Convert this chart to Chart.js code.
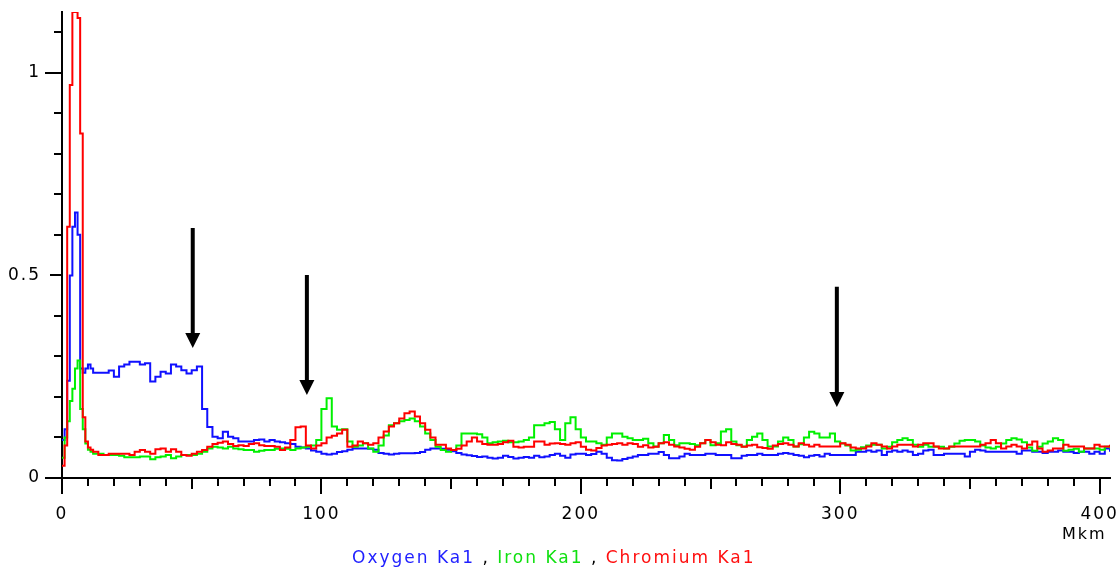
<!DOCTYPE html>
<html>
<head>
<meta charset="utf-8">
<script src="https://cdn.jsdelivr.net/npm/chart.js@4.4.1/dist/chart.umd.min.js"></script>
<style>
  body { margin: 0; background: #fff; }
  #wrap { position: relative; width: 1120px; height: 569px; }
  #unit { position: absolute; left: 1062px; top: 526px; font: 16px 'DejaVu Sans'; line-height: 16px; letter-spacing: 2px; color: #000; }
  #legend { position: absolute; left: 352px; top: 549px; font: 17px 'DejaVu Sans'; line-height: 17px; letter-spacing: 2px; color: #000; white-space: nowrap; }
</style>
</head>
<body>
<div id="wrap">
  <canvas id="canvas_1" width="1120" height="569"></canvas>
  <div id="unit">Mkm</div>
  <div id="legend"><span style="color:#1f1fff">Oxygen Ka1</span> , <span style="color:#10e010">Iron Ka1</span> , <span style="color:#ff1010">Chromium Ka1</span></div>
</div>
<script>
// distance along the scan, mkm
const xs = [0, 1, 2, 3, 4, 5, 6, 7, 8, 9, 10, 11, 12,
  14, 16, 18, 20, 22, 24, 26, 28, 30, 32, 34, 36, 38, 40, 42, 44, 46, 48, 50, 52,
  54, 56, 58, 60, 62, 64, 66, 68, 70, 72, 74, 76, 78, 80, 82, 84, 86, 88, 90, 92,
  94, 96, 98, 100, 102, 104, 106, 108, 110, 112, 114, 116, 118, 120, 122, 124, 126, 128, 130, 132,
  134, 136, 138, 140, 142, 144, 146, 148, 150, 152, 154, 156, 158, 160, 162, 164, 166, 168, 170, 172,
  174, 176, 178, 180, 182, 184, 186, 188, 190, 192, 194, 196, 198, 200, 202, 204, 206, 208, 210, 212,
  214, 216, 218, 220, 222, 224, 226, 228, 230, 232, 234, 236, 238, 240, 242, 244, 246, 248, 250, 252,
  254, 256, 258, 260, 262, 264, 266, 268, 270, 272, 274, 276, 278, 280, 282, 284, 286, 288, 290, 292,
  294, 296, 298, 300, 302, 304, 306, 308, 310, 312, 314, 316, 318, 320, 322, 324, 326, 328, 330, 332,
  334, 336, 338, 340, 342, 344, 346, 348, 350, 352, 354, 356, 358, 360, 362, 364, 366, 368, 370, 372,
  374, 376, 378, 380, 382, 384, 386, 388, 390, 392, 394, 396, 398, 400, 402, 404];

const oxygen = [0.094, 0.12, 0.24, 0.5, 0.62, 0.655, 0.6, 0.27, 0.26, 0.27, 0.28, 0.27, 0.26,
  0.26, 0.26, 0.265, 0.25, 0.275, 0.28, 0.287, 0.287, 0.28, 0.283,
  0.238, 0.25, 0.262, 0.258, 0.28, 0.275, 0.266, 0.258, 0.266, 0.275,
  0.17, 0.126, 0.102, 0.098, 0.114, 0.102, 0.098, 0.09, 0.09, 0.09,
  0.094, 0.095, 0.09, 0.094,
  0.09, 0.088, 0.086, 0.084, 0.077, 0.075, 0.073, 0.068, 0.065, 0.06,
  0.058, 0.06, 0.064, 0.066, 0.07, 0.073, 0.073, 0.073, 0.072, 0.07,
  0.062, 0.06, 0.058, 0.06, 0.061, 0.061, 0.061, 0.062, 0.064, 0.07,
  0.073, 0.073, 0.072, 0.07, 0.066, 0.062, 0.058, 0.056, 0.054, 0.052,
  0.053, 0.05, 0.048, 0.05, 0.055, 0.052, 0.048, 0.05, 0.052, 0.05,
  0.055, 0.051, 0.053, 0.057, 0.06, 0.055, 0.05, 0.058, 0.06, 0.06,
  0.057, 0.059, 0.065, 0.06, 0.05, 0.044, 0.043, 0.047, 0.05, 0.053,
  0.057, 0.057, 0.06, 0.06, 0.064, 0.057, 0.049, 0.049, 0.053, 0.06,
  0.057, 0.057, 0.057, 0.06, 0.06, 0.057, 0.057, 0.057, 0.049, 0.049,
  0.055, 0.057, 0.057, 0.06, 0.057, 0.057, 0.057, 0.06, 0.062, 0.06,
  0.057, 0.055, 0.051, 0.055, 0.057,
  0.053, 0.06, 0.057, 0.057, 0.057, 0.057, 0.057, 0.065, 0.065, 0.068,
  0.065, 0.068, 0.057, 0.065, 0.068, 0.065, 0.068, 0.065, 0.057, 0.06,
  0.068, 0.07, 0.057, 0.057, 0.06, 0.06, 0.06, 0.06, 0.053, 0.065,
  0.07, 0.068, 0.065, 0.065, 0.065, 0.065, 0.065, 0.065, 0.06, 0.068,
  0.068, 0.065, 0.065, 0.062, 0.065, 0.065, 0.068, 0.065, 0.065, 0.062,
  0.065, 0.065, 0.06, 0.065, 0.06, 0.073, 0.065];

const iron = [0.05, 0.1, 0.14, 0.19, 0.22, 0.27, 0.29, 0.17, 0.12, 0.085, 0.07, 0.065, 0.06,
  0.06, 0.057, 0.057, 0.057, 0.055, 0.051, 0.051, 0.051, 0.053, 0.053,
  0.046, 0.051, 0.053, 0.057, 0.049, 0.053, 0.057, 0.057, 0.057, 0.06,
  0.065, 0.073, 0.077, 0.075, 0.073, 0.077, 0.073, 0.071, 0.069, 0.069,
  0.065, 0.067, 0.069, 0.069,
  0.072, 0.073, 0.072, 0.069, 0.073, 0.075, 0.077, 0.08, 0.094, 0.17,
  0.197, 0.127, 0.119, 0.12, 0.09, 0.077, 0.08, 0.086, 0.073, 0.065,
  0.08, 0.105, 0.13, 0.135, 0.14, 0.143, 0.147, 0.14, 0.127, 0.11,
  0.094, 0.077, 0.069, 0.065, 0.069, 0.08, 0.11, 0.11, 0.11, 0.108,
  0.1, 0.086, 0.088, 0.09, 0.092, 0.088, 0.088, 0.09, 0.094, 0.1,
  0.13, 0.13, 0.135, 0.138, 0.12, 0.094, 0.135, 0.15, 0.12, 0.1,
  0.09, 0.09, 0.086, 0.082, 0.1, 0.11, 0.11, 0.102, 0.098, 0.094,
  0.094, 0.097, 0.086, 0.078, 0.086, 0.106, 0.094, 0.081, 0.086, 0.086,
  0.084, 0.081, 0.086, 0.094, 0.081, 0.086, 0.115, 0.12, 0.09, 0.081,
  0.078, 0.094, 0.102, 0.11, 0.094, 0.078, 0.078, 0.09, 0.1, 0.094,
  0.078, 0.083, 0.1, 0.114, 0.11,
  0.1, 0.1, 0.11, 0.09, 0.085, 0.08, 0.068, 0.07, 0.076, 0.08,
  0.082, 0.082, 0.073, 0.077, 0.088, 0.094, 0.098, 0.094, 0.082, 0.077,
  0.082, 0.077, 0.077, 0.077, 0.073, 0.077, 0.085, 0.092, 0.094, 0.094,
  0.09, 0.08, 0.075, 0.073, 0.077, 0.085, 0.094, 0.098, 0.095, 0.088,
  0.075, 0.067, 0.077, 0.085, 0.09, 0.098, 0.094, 0.067, 0.07, 0.072,
  0.065, 0.073, 0.073, 0.073, 0.07, 0.077, 0.073];

const chromium = [0.03, 0.08, 0.62, 0.97, 1.15, 1.15, 1.135, 0.85, 0.15, 0.09, 0.075, 0.07, 0.065,
  0.057, 0.057, 0.06, 0.06, 0.06, 0.06, 0.057, 0.065, 0.069, 0.065,
  0.06, 0.071, 0.073, 0.065, 0.071, 0.065, 0.057, 0.055, 0.06, 0.065,
  0.069, 0.077, 0.084, 0.087, 0.09, 0.084, 0.079, 0.081, 0.079, 0.084,
  0.086, 0.081, 0.079, 0.079,
  0.077, 0.069, 0.075, 0.094, 0.125, 0.127, 0.08, 0.073, 0.08, 0.086,
  0.1, 0.104, 0.11, 0.119, 0.077, 0.08, 0.09, 0.086, 0.082, 0.086,
  0.1, 0.115, 0.127, 0.135, 0.147, 0.16, 0.164, 0.152, 0.135, 0.119,
  0.1, 0.082, 0.082, 0.073, 0.069, 0.072, 0.08, 0.09, 0.1, 0.09,
  0.084, 0.082, 0.082, 0.084, 0.088, 0.092, 0.077, 0.075, 0.077, 0.077,
  0.09, 0.09, 0.082, 0.085, 0.086, 0.084, 0.082, 0.086, 0.088, 0.077,
  0.07, 0.068, 0.074, 0.08, 0.082, 0.084, 0.086, 0.082, 0.086, 0.084,
  0.077, 0.081, 0.075, 0.077, 0.086, 0.088, 0.082, 0.078, 0.075, 0.072,
  0.07, 0.077, 0.086, 0.094, 0.088, 0.082, 0.081, 0.088, 0.084, 0.082,
  0.077, 0.08, 0.082, 0.076, 0.074, 0.072, 0.08, 0.084, 0.086, 0.082,
  0.078, 0.086, 0.082, 0.078, 0.082,
  0.078, 0.078, 0.078, 0.078, 0.086, 0.082, 0.075, 0.073, 0.073, 0.078,
  0.086, 0.082, 0.078, 0.073, 0.078, 0.082, 0.082, 0.082, 0.078, 0.082,
  0.086, 0.086, 0.078, 0.073, 0.073, 0.078, 0.078, 0.078, 0.078, 0.078,
  0.078, 0.082, 0.086, 0.094, 0.086, 0.073, 0.078, 0.082, 0.078, 0.073,
  0.082, 0.09, 0.073, 0.065, 0.068, 0.073, 0.073, 0.082, 0.078, 0.078,
  0.078, 0.073, 0.073, 0.082, 0.078, 0.078, 0.082];

// arrows marking the layer boundaries (data coords)
const arrowX = [50.4, 94.4, 298.7];
const arrowTop = [0.617, 0.501, 0.472];
const arrowTip = [0.321, 0.205, 0.175];

const xLabels = [0, 100, 200, 300, 400];
const yLabels = [0, 0.5, 1];

function pts(arr) {
  return xs.map(function (x, i) { return { x: x, y: arr[i] }; });
}

// tick marks with long/medium/short lengths
const tickMarks = {
  id: 'tickMarks',
  beforeDraw(chart) {
    chart.ctx.letterSpacing = '2px';
  },
  afterDraw(chart) {
    const ctx = chart.ctx, a = chart.chartArea, x = chart.scales.x, y = chart.scales.y;
    ctx.save();
    ctx.strokeStyle = '#000';
    ctx.lineWidth = 2;
    ctx.beginPath();
    for (let v = 0; v <= 400; v += 10) {
      const px = Math.round(x.getPixelForValue(v));
      const len = v % 100 === 0 ? 16 : (v % 50 === 0 ? 11 : 8);
      ctx.moveTo(px, a.bottom);
      ctx.lineTo(px, a.bottom + len);
    }
    for (let k = 0; k <= 11; k++) {
      const py = Math.round(y.getPixelForValue(k / 10));
      const len = k % 10 === 0 ? 17 : (k % 5 === 0 ? 12 : 8);
      ctx.moveTo(a.left, py);
      ctx.lineTo(a.left - len, py);
    }
    ctx.stroke();
    ctx.restore();
  }
};

const arrows = {
  id: 'arrows',
  afterDatasetsDraw(chart) {
    const ctx = chart.ctx, x = chart.scales.x, y = chart.scales.y;
    ctx.save();
    ctx.fillStyle = '#000';
    ctx.strokeStyle = '#000';
    ctx.lineWidth = 4;
    for (let i = 0; i < arrowX.length; i++) {
      const px = x.getPixelForValue(arrowX[i]);
      const top = y.getPixelForValue(arrowTop[i]);
      const tip = y.getPixelForValue(arrowTip[i]);
      ctx.beginPath();
      ctx.moveTo(px, top);
      ctx.lineTo(px, tip - 12);
      ctx.stroke();
      ctx.beginPath();
      ctx.moveTo(px - 7.5, tip - 15);
      ctx.lineTo(px + 7.5, tip - 15);
      ctx.lineTo(px, tip);
      ctx.closePath();
      ctx.fill();
    }
    ctx.restore();
  }
};

Chart.defaults.font.family = "'DejaVu Sans', sans-serif";
Chart.defaults.color = '#000';

let canvas = document.getElementById('canvas_1');
let ctx = canvas.getContext('2d');
let chart = new Chart(ctx, {
  type: 'line',
  data: {
    datasets: [{
      label: 'Oxygen Ka1',
      data: pts(oxygen),
      borderColor: '#1010ff',
      order: 2
    }, {
      label: 'Iron Ka1',
      data: pts(iron),
      borderColor: '#00f000',
      order: 1
    }, {
      label: 'Chromium Ka1',
      data: pts(chromium),
      borderColor: '#ff0000',
      order: 0
    }]
  },
  options: {
    responsive: false,
    animation: false,
    datasets: {
      line: { stepped: true, borderWidth: 2, pointRadius: 0, fill: false }
    },
    layout: { padding: { top: 12, right: 10, left: 0, bottom: 0 } },
    plugins: {
      legend: { display: false },
      tooltip: { enabled: false }
    },
    scales: {
      x: {
        type: 'linear',
        bounds: 'data',
        min: 0,
        max: 404,
        border: { color: '#000', width: 2 },
        grid: { drawOnChartArea: false, drawTicks: false },
        ticks: {
          autoSkip: false,
          maxRotation: 0,
          padding: 26,
          font: { size: 17 },
          callback: function (v) { return String(v); }
        },
        afterBuildTicks: function (s) {
          s.ticks = xLabels.map(function (v) { return { value: v }; });
        },
        afterFit: function (s) {
          s.height = 91;
          s.paddingLeft = 0;
          s.paddingRight = 0;
        }
      },
      y: {
        type: 'linear',
        bounds: 'data',
        min: 0,
        max: 1.15,
        border: { color: '#000', width: 2 },
        grid: { drawOnChartArea: false, drawTicks: false },
        ticks: {
          autoSkip: false,
          padding: 21,
          font: { size: 17 },
          callback: function (v) { return String(v); }
        },
        afterBuildTicks: function (s) {
          s.ticks = yLabels.map(function (v) { return { value: v }; });
        },
        afterFit: function (s) {
          s.width = 62;
          s.paddingTop = 0;
          s.paddingBottom = 0;
        }
      }
    }
  },
  plugins: [tickMarks, arrows]
});
</script>
</body>
</html>
